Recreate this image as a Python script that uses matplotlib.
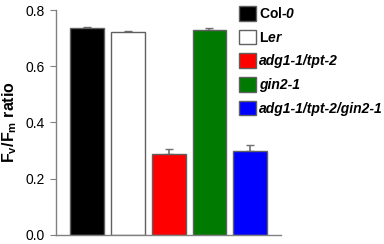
import numpy as np
import matplotlib.pyplot as plt

plt.rcParams['font.family'] = ['Liberation Sans', 'DejaVu Sans']
plt.rcParams['mathtext.fontset'] = 'custom'
plt.rcParams['mathtext.rm'] = 'Liberation Sans'
plt.rcParams['mathtext.bf'] = 'Liberation Sans:bold'
plt.rcParams['mathtext.it'] = 'Liberation Sans:italic'
plt.rcParams['mathtext.bfit'] = 'Liberation Sans:bold:italic'

labels = ["Col-$\\mathbfit{0}$", "L$\\mathbfit{er}$", "adg1-1/tpt-2", "gin2-1", "adg1-1/tpt-2/gin2-1"]
italic = [False, False, True, True, True]
values = [0.735, 0.721, 0.287, 0.729, 0.298]
errors = [0.006, 0.005, 0.018, 0.006, 0.022]
colors = ["black", "white", "#ff0000", "#007a00", "#0000ff"]

fig = plt.figure(figsize=(3.84, 2.44), dpi=100)
ax = fig.add_axes([0.146, 0.037, 0.586, 0.922])

x = np.arange(len(values))
bars = []
for i in range(len(values)):
    b = ax.bar(x[i], values[i], width=0.83, color=colors[i], edgecolor="#606060", linewidth=1.0, zorder=2)
    bars.append(b)
ax.errorbar(x, values, yerr=[np.zeros(len(errors)), errors], fmt="none",
            ecolor="#707070", elinewidth=1.2, capsize=3, capthick=1.0, zorder=1)

ax.set_xlim(-0.75, 4.75)
ax.set_ylim(0, 0.8)
ax.set_yticks([0.0, 0.2, 0.4, 0.6, 0.8])
ax.set_yticklabels(["0.0", "0.2", "0.4", "0.6", "0.8"], fontsize=10)
ax.set_xticks([])
ax.tick_params(axis="y", direction="out", length=4, color="#808080", pad=4)
for s in ["top", "right"]:
    ax.spines[s].set_visible(False)
for s in ["left", "bottom"]:
    ax.spines[s].set_color("#808080")
    ax.spines[s].set_linewidth(1.0)
ax.set_ylabel("F$_\\mathbf{v}$/F$_\\mathbf{m}$ ratio", fontsize=11.5, fontweight="bold")
ax.yaxis.set_label_coords(-0.165, 0.5)

leg = fig.legend(bars, labels, loc="upper left", bbox_to_anchor=(0.622, 0.975),
                 frameon=False, prop={"weight": "bold", "size": 10},
                 handlelength=1.25, handleheight=1.25, handletextpad=0.2, labelspacing=0.62,
                 borderaxespad=0.0, borderpad=0.0)
for t, it in zip(leg.get_texts(), italic):
    if it:
        t.set_fontstyle("italic")

fig.savefig("out.png", dpi=100)
